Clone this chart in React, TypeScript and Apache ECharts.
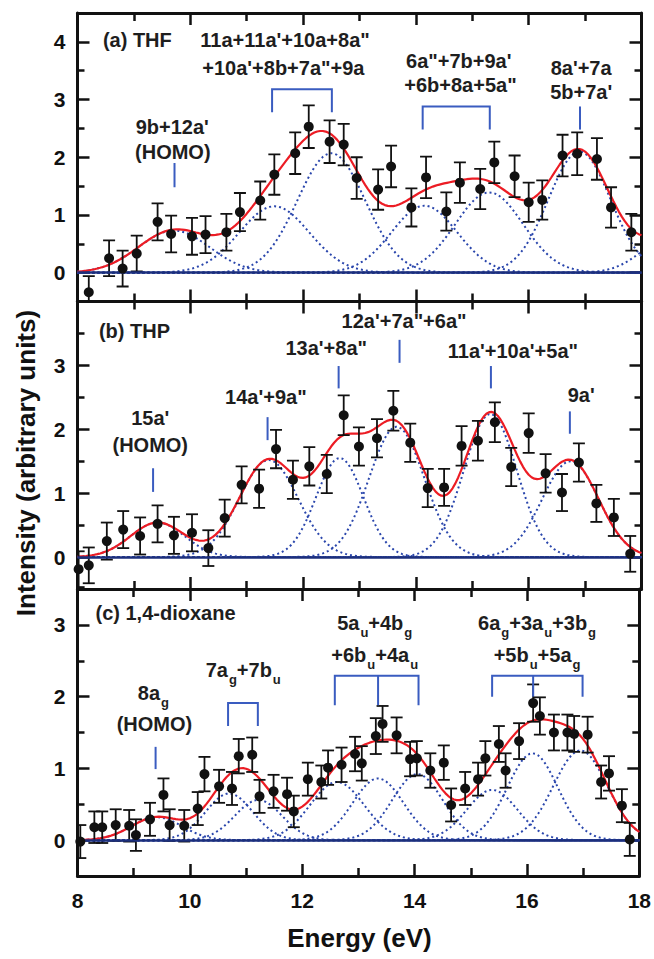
import { useEffect, useRef } from "react";
import * as echarts from "echarts";

const FONT = "'Liberation Sans', Arial, Helvetica, sans-serif";
const INK = "#111111";
const TEXT = "#1e1e1e";
const RED = "#ec1c24";
const BLUE = "#2a46ac";
const MARK = "#3a5cc0";
const NAVY = "#1c2f7c";

// ---------- energy axis ----------
const energyMin = 8;
const energyMax = 18;
const energyStep = 2;

// ---------- (a) THF ----------
const thfEnergy = [8.2, 8.56, 8.8, 9.05, 9.42, 9.66, 10.03, 10.27, 10.64, 10.88, 11.24, 11.49, 11.86, 12.1, 12.47, 12.72, 12.95, 13.33, 13.56, 13.92, 14.18, 14.54, 14.78, 15.14, 15.39, 15.75, 16.0, 16.24, 16.6, 16.86, 17.21, 17.46, 17.82];
const thfIntensity = [-0.34, 0.25, 0.07, 0.33, 0.88, 0.67, 0.63, 0.66, 0.7, 1.05, 1.25, 1.7, 2.07, 2.53, 2.27, 2.22, 1.64, 1.44, 1.84, 1.13, 1.65, 1.06, 1.56, 1.45, 1.91, 1.67, 1.22, 1.26, 2.03, 2.06, 1.97, 1.13, 0.7];
const thfError = [0.28, 0.31, 0.31, 0.31, 0.32, 0.32, 0.32, 0.32, 0.32, 0.33, 0.33, 0.35, 0.36, 0.37, 0.37, 0.36, 0.36, 0.35, 0.36, 0.33, 0.36, 0.33, 0.35, 0.35, 0.36, 0.36, 0.34, 0.34, 0.36, 0.37, 0.36, 0.35, 0.32];
const thfPeakCentre = [9.71, 11.49, 12.5, 14.15, 15.3, 16.9, 18.5];
const thfPeakHeight = [0.73, 1.15, 2.07, 1.16, 1.39, 2.1, 0.6];
const thfPeakWidth = [0.63, 0.62, 0.6, 0.58, 0.6, 0.55, 0.5];
const thfRange = [-0.5, 4.5];
const thfMajor = [0, 1, 2, 3, 4];
const thfMinor = [0.5, 1.5, 2.5, 3.5];

// ---------- (b) THP ----------
const thpEnergy = [8.02, 8.2, 8.52, 8.81, 9.11, 9.42, 9.71, 10.03, 10.32, 10.61, 10.91, 11.22, 11.52, 11.82, 12.11, 12.42, 12.72, 12.99, 13.31, 13.6, 13.9, 14.21, 14.5, 14.81, 15.1, 15.4, 15.69, 16.0, 16.3, 16.59, 16.89, 17.2, 17.51, 17.8];
const thpIntensity = [-0.19, -0.13, 0.25, 0.43, 0.33, 0.52, 0.34, 0.38, 0.14, 0.61, 1.13, 1.07, 1.69, 1.21, 1.42, 1.3, 2.22, 1.73, 1.86, 2.29, 1.79, 1.08, 1.09, 1.74, 1.82, 2.11, 1.41, 1.94, 1.31, 1.01, 1.48, 0.84, 0.62, 0.05];
const thpError = [0.28, 0.28, 0.29, 0.29, 0.29, 0.29, 0.29, 0.29, 0.28, 0.29, 0.29, 0.3, 0.3, 0.3, 0.3, 0.3, 0.31, 0.3, 0.3, 0.31, 0.3, 0.3, 0.29, 0.31, 0.31, 0.31, 0.3, 0.31, 0.3, 0.29, 0.3, 0.29, 0.29, 0.28];
const thpPeakCentre = [9.42, 11.39, 12.65, 13.66, 15.32, 16.74];
const thpPeakHeight = [0.54, 1.52, 1.55, 2.04, 2.24, 1.5];
const thpPeakWidth = [0.48, 0.52, 0.42, 0.49, 0.47, 0.5];
const thpRange = [-0.5, 4];
const thpMajor = [0, 1, 2, 3];
const thpMinor = [0.5, 1.5, 2.5, 3.5];

// ---------- (c) 1,4-dioxane ----------
const dioEnergy = [8.05, 8.3, 8.44, 8.68, 8.92, 9.04, 9.29, 9.53, 9.64, 9.9, 10.14, 10.26, 10.52, 10.75, 10.87, 11.11, 11.24, 11.49, 11.73, 11.85, 12.1, 12.34, 12.46, 12.7, 12.94, 13.06, 13.31, 13.43, 13.68, 13.92, 14.04, 14.28, 14.52, 14.65, 14.9, 15.13, 15.26, 15.5, 15.62, 15.86, 16.11, 16.23, 16.48, 16.72, 16.84, 17.08, 17.32, 17.46, 17.69, 17.83];
const dioIntensity = [-0.02, 0.18, 0.18, 0.21, 0.2, 0.07, 0.29, 0.63, 0.21, 0.2, 0.44, 0.92, 0.75, 0.72, 1.17, 1.19, 0.61, 0.68, 0.64, 0.4, 0.85, 0.81, 1.01, 1.05, 1.2, 1.07, 1.45, 1.62, 1.46, 1.13, 1.14, 0.97, 1.08, 0.49, 0.72, 0.85, 1.14, 1.34, 0.97, 1.38, 1.91, 1.73, 1.5, 1.5, 1.48, 1.47, 0.81, 0.93, 0.48, 0.01];
const dioError = [0.23, 0.22, 0.22, 0.22, 0.22, 0.22, 0.23, 0.23, 0.22, 0.22, 0.23, 0.24, 0.23, 0.23, 0.24, 0.24, 0.23, 0.23, 0.23, 0.22, 0.23, 0.23, 0.24, 0.24, 0.24, 0.24, 0.25, 0.25, 0.25, 0.24, 0.24, 0.24, 0.24, 0.23, 0.23, 0.23, 0.24, 0.25, 0.24, 0.25, 0.26, 0.26, 0.25, 0.25, 0.25, 0.25, 0.23, 0.24, 0.23, 0.23];
const dioPeakCentre = [9.41, 10.7, 11.22, 12.62, 13.35, 14.05, 15.38, 16.1, 16.95];
const dioPeakHeight = [0.32, 0.65, 0.56, 0.81, 0.86, 0.92, 0.7, 1.21, 1.25];
const dioPeakWidth = [0.45, 0.42, 0.42, 0.48, 0.45, 0.45, 0.45, 0.45, 0.48];
const dioRange = [-0.5, 3.5];
const dioMajor = [0, 1, 2, 3];
const dioMinor = [0.5, 1.5, 2.5];

// ---------- annotations (energy, intensity) ----------
type Note = { text: string; e: number; v: number; left?: boolean };
const thfNotes: Note[] = [
  { text: "(a) THF", e: 8.45, v: 3.99, left: true },
  { text: "11a+11a'+10a+8a\"", e: 11.68, v: 3.99 },
  { text: "+10a'+8b+7a\"+9a", e: 11.65, v: 3.52 },
  { text: "9b+12a'", e: 9.68, v: 2.49 },
  { text: "(HOMO)", e: 9.69, v: 2.06 },
  { text: "6a\"+7b+9a'", e: 14.76, v: 3.64 },
  { text: "+6b+8a+5a\"", e: 14.79, v: 3.22 },
  { text: "8a'+7a", e: 16.93, v: 3.52 },
  { text: "5b+7a'", e: 16.93, v: 3.1 },
];
const thfMarks = [
  [[9.72, 1.48], [9.72, 1.9]],
  [[11.45, 2.78], [11.45, 3.18], [12.51, 3.18], [12.51, 2.78]],
  [[14.12, 2.48], [14.12, 2.88], [15.31, 2.88], [15.31, 2.48]],
  [[16.91, 2.48], [16.91, 2.88]],
];
const thpNotes: Note[] = [
  { text: "(b) THP", e: 8.38, v: 3.51, left: true },
  { text: "12a'+7a\"+6a\"", e: 13.79, v: 3.67 },
  { text: "13a'+8a\"", e: 12.41, v: 3.24 },
  { text: "11a'+10a'+5a\"", e: 15.72, v: 3.2 },
  { text: "14a'+9a\"", e: 11.34, v: 2.47 },
  { text: "15a'", e: 9.29, v: 2.14 },
  { text: "(HOMO)", e: 9.29, v: 1.73 },
  { text: "9a'", e: 16.93, v: 2.5 },
];
const thpMarks = [
  [[9.34, 1.02], [9.34, 1.39]],
  [[11.37, 1.83], [11.37, 2.19]],
  [[12.63, 2.64], [12.63, 2.99]],
  [[13.71, 3.04], [13.71, 3.4]],
  [[15.33, 2.64], [15.33, 2.99]],
  [[16.73, 1.93], [16.73, 2.28]],
];
const dioNotes: Note[] = [
  { text: "(c) 1,4-dioxane", e: 8.32, v: 3.14, left: true },
  { text: "{m|5a}{s|u}{m|+4b}{s|g}", e: 13.29, v: 3.0 },
  { text: "{m|+6b}{s|u}{m|+4a}{s|u}", e: 13.29, v: 2.55 },
  { text: "{m|6a}{s|g}{m|+3a}{s|u}{m|+3b}{s|g}", e: 16.18, v: 3.0 },
  { text: "{m|+5b}{s|u}{m|+5a}{s|g}", e: 16.18, v: 2.55 },
  { text: "{m|7a}{s|g}{m|+7b}{s|u}", e: 10.95, v: 2.35 },
  { text: "{m|8a}{s|g}", e: 9.35, v: 2.02 },
  { text: "(HOMO)", e: 9.37, v: 1.59 },
];
const dioMarks = [
  [[9.39, 0.99], [9.39, 1.3]],
  [[10.68, 1.59], [10.68, 1.91], [11.21, 1.91], [11.21, 1.59]],
  [[12.58, 1.88], [12.58, 2.29], [14.07, 2.29], [14.07, 1.88]],
  [[13.35, 2.29], [13.35, 1.88]],
  [[15.38, 2.0], [15.38, 2.29], [16.99, 2.29], [16.99, 2.0]],
  [[16.11, 2.29], [16.11, 2.0]],
];

const curveEnergy: number[] = [];
for (let i = 0; i <= 200; i++) curveEnergy.push(+(energyMin + i * 0.05).toFixed(2));

function gauss(e: number, c: number, h: number, w: number) {
  return h * Math.exp(-((e - c) * (e - c)) / (2 * w * w));
}

type Panel = {
  energy: number[]; intensity: number[]; error: number[];
  centre: number[]; height: number[]; width: number[];
  range: number[]; major: number[]; minor: number[];
  notes: Note[]; marks: number[][][];
};

const panels: Panel[] = [
  { energy: thfEnergy, intensity: thfIntensity, error: thfError, centre: thfPeakCentre, height: thfPeakHeight, width: thfPeakWidth, range: thfRange, major: thfMajor, minor: thfMinor, notes: thfNotes, marks: thfMarks },
  { energy: thpEnergy, intensity: thpIntensity, error: thpError, centre: thpPeakCentre, height: thpPeakHeight, width: thpPeakWidth, range: thpRange, major: thpMajor, minor: thpMinor, notes: thpNotes, marks: thpMarks },
  { energy: dioEnergy, intensity: dioIntensity, error: dioError, centre: dioPeakCentre, height: dioPeakHeight, width: dioPeakWidth, range: dioRange, major: dioMajor, minor: dioMinor, notes: dioNotes, marks: dioMarks },
];

const gridBoxes = [
  { left: 77.5, top: 13, width: 564, height: 288.5 },
  { left: 77.5, top: 301.5, width: 564, height: 287.5 },
  { left: 77.5, top: 589, width: 564, height: 287 },
];

const axisLine = { show: true, onZero: false, lineStyle: { color: INK, width: 3 } };
const tickStyle = { color: INK, width: 2.5 };
const tickFont = { fontSize: 21, fontWeight: "bold" as const, fontFamily: FONT, color: INK };

const richStyles = {
  m: { fontSize: 20, fontWeight: "bold", fontFamily: FONT, fill: TEXT, lineHeight: 24, verticalAlign: "top" },
  s: { fontSize: 13, fontWeight: "bold", fontFamily: FONT, fill: TEXT, lineHeight: 14, padding: [13, 0, 0, 1], verticalAlign: "top" },
};

function buildOption() {
  const xAxis: any[] = [];
  const yAxis: any[] = [];
  const series: any[] = [];
  panels.forEach((p, gi) => {
    ["bottom", "top"].forEach((pos) => {
      xAxis.push({
        type: "value", gridIndex: gi, position: pos, min: energyMin, max: energyMax, interval: energyStep,
        axisLine, splitLine: { show: false },
        axisTick: { show: true, inside: true, length: 12, lineStyle: tickStyle },
        minorTick: { show: true, splitNumber: 2, length: 8, lineStyle: tickStyle },
        axisLabel: { show: gi === 2 && pos === "bottom", margin: 14, ...tickFont },
      });
    });
    ["left", "right"].forEach((pos) => {
      yAxis.push({
        type: "value", gridIndex: gi, position: pos, min: p.range[0], max: p.range[1],
        axisLine, splitLine: { show: false },
        axisTick: { show: true, inside: true, length: 12, customValues: p.major, lineStyle: tickStyle },
        axisLabel: { show: pos === "left", customValues: p.major, margin: 12, ...tickFont },
      });
      yAxis.push({
        type: "value", gridIndex: gi, position: pos, min: p.range[0], max: p.range[1],
        axisLine: { show: false }, splitLine: { show: false },
        axisTick: { show: true, inside: true, length: 7, customValues: p.minor, lineStyle: tickStyle },
        axisLabel: { show: false },
      });
    });
    const xi = gi * 2;
    const yi = gi * 4;
    p.centre.forEach((c, k) => {
      series.push({
        type: "line", xAxisIndex: xi, yAxisIndex: yi, showSymbol: false, silent: true, z: 2,
        lineStyle: { color: BLUE, width: 2, type: [2, 3] },
        data: curveEnergy.map((e) => [e, gauss(e, c, p.height[k], p.width[k])]),
      });
    });
    series.push({
      type: "line", xAxisIndex: xi, yAxisIndex: yi, showSymbol: false, silent: true, z: 3,
      lineStyle: { color: RED, width: 2.2 },
      data: curveEnergy.map((e) => [e, p.centre.reduce((s, c, k) => s + gauss(e, c, p.height[k], p.width[k]), 0)]),
      markLine: { silent: true, symbol: "none", label: { show: false }, lineStyle: { color: NAVY, width: 2.5, type: "solid" }, data: [{ yAxis: 0 }] },
    });
    series.push({
      type: "custom", xAxisIndex: xi, yAxisIndex: yi, clip: true, silent: true, z: 4,
      data: p.energy.map((e, i) => [e, p.intensity[i], p.error[i]]),
      renderItem: (_params: any, api: any) => {
        const e = api.value(0), v = api.value(1), s = api.value(2);
        const t = api.coord([e, v + s]);
        const b = api.coord([e, v - s]);
        const st = { stroke: INK, lineWidth: 1.8 };
        return {
          type: "group",
          children: [
            { type: "line", shape: { x1: t[0], y1: t[1], x2: b[0], y2: b[1] }, style: st },
            { type: "line", shape: { x1: t[0] - 6, y1: t[1], x2: t[0] + 6, y2: t[1] }, style: st },
            { type: "line", shape: { x1: b[0] - 6, y1: b[1], x2: b[0] + 6, y2: b[1] }, style: st },
          ],
        };
      },
    });
    series.push({
      type: "scatter", xAxisIndex: xi, yAxisIndex: yi, silent: true, z: 5,
      symbol: "circle", symbolSize: 10, itemStyle: { color: INK, opacity: 1 },
      data: p.energy.map((e, i) => [e, p.intensity[i]]),
    });
    series.push({
      type: "custom", xAxisIndex: xi, yAxisIndex: yi, silent: true, z: 6,
      data: p.marks.map((m) => m[0]),
      renderItem: (params: any, api: any) => {
        const pts = p.marks[params.dataIndex].map((q) => api.coord(q));
        return { type: "polyline", shape: { points: pts }, style: { stroke: MARK, lineWidth: 2, fill: "none" } };
      },
    });
    series.push({
      type: "custom", xAxisIndex: xi, yAxisIndex: yi, silent: true, z: 6,
      data: p.notes.map((n) => [n.e, n.v]),
      renderItem: (params: any, api: any) => {
        const n = p.notes[params.dataIndex];
        const pt = api.coord([n.e, n.v]);
        const txt = n.text.startsWith("{m|") ? n.text : "{m|" + n.text + "}";
        return {
          type: "text", x: pt[0], y: pt[1],
          style: { text: txt, rich: richStyles, fill: TEXT, align: n.left ? "left" : "center", verticalAlign: "middle", fontSize: 20, fontWeight: "bold", fontFamily: FONT },
        };
      },
    });
  });

  return {
    animation: false,
    backgroundColor: "#ffffff",
    grid: gridBoxes,
    xAxis,
    yAxis,
    series,
    graphic: [
      { type: "text", x: 26, y: 463, rotation: Math.PI / 2, style: { text: "Intensity (arbitrary units)", fontSize: 26, fontWeight: "bold", fontFamily: FONT, fill: INK, align: "center", verticalAlign: "middle" } },
      { type: "text", x: 359.5, y: 938, style: { text: "Energy (eV)", fontSize: 26, fontWeight: "bold", fontFamily: FONT, fill: INK, align: "center", verticalAlign: "middle" } },
    ],
  };
}

export default function App() {
  const ref = useRef<HTMLDivElement>(null);
  useEffect(() => {
    const chart = echarts.init(ref.current!, null, { renderer: "svg" });
    chart.setOption(buildOption() as any);
    return () => chart.dispose();
  }, []);
  return <div ref={ref} style={{ position: "absolute", left: 0, top: 0, width: 654, height: 959, background: "#fff" }} />;
}
